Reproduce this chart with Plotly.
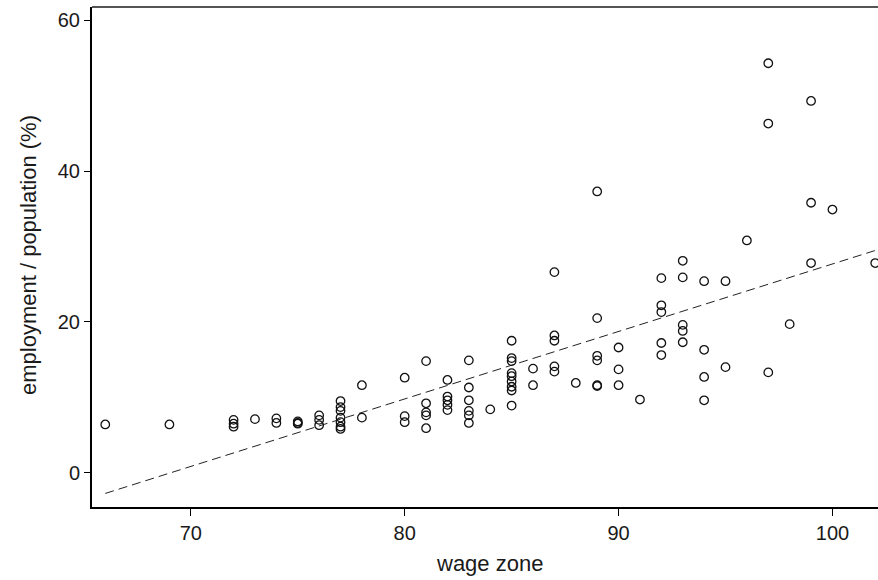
import plotly.graph_objects as go

# ---- data ----
wage_zone = (
    [66, 69]
    + [72] * 3 + [73] + [74] * 2 + [75] * 3 + [76] * 3
    + [77] * 7 + [78] * 2 + [80] * 3 + [81] * 5 + [82] * 5
    + [83] * 6 + [84] + [85] * 9 + [86] * 2 + [87] * 5 + [88]
    + [89] * 6 + [90] * 3 + [91] + [92] * 5 + [93] * 5 + [94] * 4
    + [95] * 2 + [96] + [97] * 3 + [98] + [99] * 3 + [100] + [102]
)
emp_pop = [
    6.4, 6.4,
    7.0, 6.5, 6.1,
    7.1,
    7.2, 6.6,
    6.8, 6.6, 6.5,
    7.6, 7.0, 6.3,
    9.5, 8.7, 8.2, 7.3, 6.7, 6.1, 5.8,
    11.6, 7.3,
    12.6, 7.5, 6.7,
    14.8, 9.2, 8.0, 7.6, 5.9,
    12.3, 10.1, 9.6, 9.0, 8.3,
    14.9, 11.3, 9.6, 8.2, 7.6, 6.6,
    8.4,
    17.5, 15.2, 14.8, 13.2, 12.8, 12.1, 11.4, 10.9, 8.9,
    13.8, 11.6,
    26.6, 18.2, 17.5, 14.1, 13.4,
    11.9,
    37.3, 20.5, 15.5, 14.9, 11.6, 11.5,
    16.6, 13.7, 11.6,
    9.7,
    25.8, 22.2, 21.3, 17.2, 15.6,
    28.1, 25.9, 19.6, 18.8, 17.3,
    25.4, 16.3, 12.7, 9.6,
    25.4, 14.0,
    30.8,
    54.3, 46.3, 13.3,
    19.7,
    49.3, 35.8, 27.8,
    34.9,
    27.8,
]

# fitted line
fit_intercept = -61.82
fit_slope = 0.895
fit_x = [66, 103]

x_ticks = [70, 80, 90, 100]
y_ticks = [0, 20, 40, 60]

fit_y = [fit_intercept + fit_slope * v for v in fit_x]

FONT = "Liberation Sans, Arial, sans-serif"
TXT = "#1a1a1a"

fig = go.Figure()
fig.add_trace(go.Scatter(
    x=fit_x, y=fit_y, mode="lines",
    line=dict(color="#222222", width=1, dash="9px,5px"),
    hoverinfo="skip", showlegend=False,
))
fig.add_trace(go.Scatter(
    x=wage_zone, y=emp_pop, mode="markers",
    marker=dict(symbol="circle-open", size=8.5, color="#111111",
                line=dict(width=1.3, color="#111111")),
    showlegend=False,
))

fig.update_layout(
    width=878, height=580,
    margin=dict(l=92, r=0, t=7, b=73),
    paper_bgcolor="white", plot_bgcolor="white",
    font=dict(family=FONT, size=20, color=TXT),
    xaxis=dict(
        range=[65.38, 102.13], tickvals=x_ticks,
        showgrid=False, zeroline=False,
        showline=True, linecolor="black", linewidth=2,
        ticks="outside", ticklen=7, tickwidth=1, tickcolor="black",
        tickfont=dict(family=FONT, size=20, color=TXT),
    ),
    yaxis=dict(
        range=[-4.55, 61.76], tickvals=y_ticks,
        showgrid=False, zeroline=False,
        showline=True, linecolor="black", linewidth=2,
        ticks="outside", ticklen=6, tickwidth=1, tickcolor="black",
        tickfont=dict(family=FONT, size=20, color=TXT),
    ),
    shapes=[dict(type="line", xref="paper", yref="paper",
                 x0=0, x1=1, y0=1, y1=1,
                 line=dict(color="#555555", width=2))],
    annotations=[
        dict(text="wage zone", xref="paper", yref="paper",
             x=0.506, y=-0.112, xanchor="center", yanchor="middle",
             showarrow=False, font=dict(family=FONT, size=22, color=TXT)),
        dict(text="employment / population (%)", xref="paper", yref="paper",
             x=-0.0814, y=0.504, xanchor="center", yanchor="middle",
             textangle=-90, showarrow=False,
             font=dict(family=FONT, size=22, color=TXT)),
    ],
)

fig.write_html("out.html")
